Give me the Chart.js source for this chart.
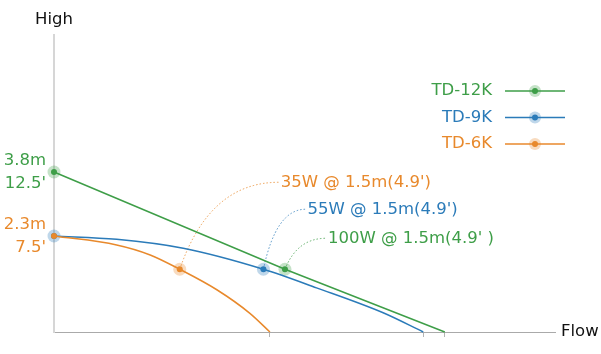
<!DOCTYPE html>
<html>
<head>
<meta charset="utf-8">
<script src="https://cdn.jsdelivr.net/npm/chart.js@4.4.1/dist/chart.umd.min.js"></script>
<style>
  html, body { margin: 0; padding: 0; background: #fff; }
  #pumpChart { display: block; }
</style>
</head>
<body>
<canvas id="pumpChart" width="601" height="354"></canvas>
<script>
// Data
const seriesNames = ['TD-12K', 'TD-9K', 'TD-6K'];
const seriesColors = ['#3e9e48', '#2b7bb9', '#e8892c'];
const haloColors = ['rgba(62,158,72,0.3)', 'rgba(43,123,185,0.3)', 'rgba(232,137,44,0.3)'];

const td12kFlow = [0, 46.1, 78.0];
const td12kHead = [12.5, 4.9, 0];

const td9kFlow = [0, 12.5, 25.8, 41.8, 52.4, 65.7, 73.7];
const td9kHead = [7.5, 7.24, 6.54, 4.9, 3.45, 1.5, 0];

const td6kFlow = [0, 12.5, 19.2, 25.1, 32.5, 39.1, 43.1];
const td6kHead = [7.5, 6.8, 6.02, 4.9, 3.3, 1.46, 0];

const flows = [td12kFlow, td9kFlow, td6kFlow];
const heads = [td12kHead, td9kHead, td6kHead];

// marked points (indexes) and the ones that get a halo
const markIndex = [[0, 1], [0, 3], [0, 3]];
const haloIndex = [[0, 1], [0, 3], [3]];
const callouts = ["100W @ 1.5m(4.9' )", "55W @ 1.5m(4.9')", "35W @ 1.5m(4.9')"];
const calloutPoint = [1, 3, 3];
const shutoffLabels = [['3.8m', "12.5'"], null, ['2.3m', "7.5'"]];
const axisTitles = { x: 'Flow', y: 'High' };

const maxFlows = flows.map(f => f[f.length - 1]);

// layout bits
const labelFont = '16.5px "DejaVu Sans"';
const calloutOffset = [[43, -31], [44, -60], [101, -87]];

const toPoints = (fx, hy) => fx.map((v, i) => ({ x: v, y: hy[i] }));

const datasets = [];
seriesNames.forEach((name, i) => {
  datasets.push({
    label: name,
    data: toPoints(flows[i], heads[i]),
    borderColor: seriesColors[i],
    borderWidth: 1.5,
    pointRadius: flows[i].map((v, k) => markIndex[i].includes(k) ? 3 : 0),
    pointBackgroundColor: seriesColors[i],
    pointBorderWidth: 0,
    tension: i === 0 ? 0 : 0.4,
    cubicInterpolationMode: i === 0 ? 'default' : 'monotone',
    showLine: true,
    clip: false,
    order: 3 - i
  });
});
seriesNames.forEach((name, i) => {
  datasets.push({
    label: name + ' halo',
    data: haloIndex[i].map(k => ({ x: flows[i][k], y: heads[i][k] })),
    pointRadius: 6.5,
    pointBackgroundColor: haloColors[i],
    pointBorderWidth: 0,
    showLine: false,
    clip: false,
    order: 10
  });
});

const leaderPlugin = {
  id: 'leaders',
  beforeDatasetsDraw(chart) {
    const ctx = chart.ctx;
    const xs = chart.scales.x, ys = chart.scales.y;
    ctx.save();
    ctx.lineWidth = 1;
    ctx.setLineDash([1.5, 2]);
    callouts.forEach((txt, i) => {
      const k = calloutPoint[i];
      const px = xs.getPixelForValue(flows[i][k]);
      const py = ys.getPixelForValue(heads[i][k]);
      const ex = px + calloutOffset[i][0] - 2;
      const ey = py + calloutOffset[i][1];
      ctx.strokeStyle = haloColors[i].replace('0.3', '0.8');
      ctx.beginPath();
      ctx.moveTo(px, py);
      ctx.quadraticCurveTo(px + (ex - px) * 0.3, ey, ex, ey);
      ctx.stroke();
    });
    ctx.restore();
  },
  afterDraw(chart) {
    const ctx = chart.ctx;
    const xs = chart.scales.x, ys = chart.scales.y;
    const area = chart.chartArea;
    ctx.save();
    ctx.font = labelFont;
    ctx.textBaseline = 'middle';

    // axis titles
    ctx.fillStyle = '#111';
    ctx.textAlign = 'center';
    ctx.fillText(axisTitles.y, area.left, area.top - 15);
    ctx.textAlign = 'left';
    ctx.fillText(axisTitles.x, area.right + 6, area.bottom);

    // shut-off head labels
    ctx.textAlign = 'right';
    shutoffLabels.forEach((pair, i) => {
      if (!pair) return;
      const py = ys.getPixelForValue(heads[i][0]);
      ctx.fillStyle = seriesColors[i];
      ctx.fillText(pair[0], area.left - 8, py - 11);
      ctx.fillText(pair[1], area.left - 8, py + 12);
    });

    // callout texts
    ctx.textAlign = 'left';
    callouts.forEach((txt, i) => {
      const k = calloutPoint[i];
      const px = xs.getPixelForValue(flows[i][k]);
      const py = ys.getPixelForValue(heads[i][k]);
      ctx.fillStyle = seriesColors[i];
      ctx.fillText(txt, px + calloutOffset[i][0], py + calloutOffset[i][1]);
    });

    // legend
    seriesNames.forEach((name, i) => {
      const ly = 91 + i * 26.5;
      ctx.fillStyle = seriesColors[i];
      ctx.textAlign = 'right';
      ctx.fillText(name, 492, ly);
      ctx.strokeStyle = seriesColors[i];
      ctx.lineWidth = 1.5;
      ctx.beginPath();
      ctx.moveTo(505, ly);
      ctx.lineTo(565, ly);
      ctx.stroke();
      ctx.fillStyle = haloColors[i];
      ctx.beginPath();
      ctx.arc(535, ly, 6, 0, Math.PI * 2);
      ctx.fill();
      ctx.fillStyle = seriesColors[i];
      ctx.beginPath();
      ctx.arc(535, ly, 3, 0, Math.PI * 2);
      ctx.fill();
    });
    ctx.restore();
  }
};

new Chart(document.getElementById('pumpChart'), {
  type: 'scatter',
  data: { datasets: datasets },
  options: {
    responsive: false,
    animation: false,
    devicePixelRatio: 1,
    layout: { padding: { left: 54, right: 46, top: 35, bottom: 22 } },
    plugins: { legend: { display: false }, tooltip: { enabled: false } },
    scales: {
      x: {
        type: 'linear',
        min: 0,
        max: 100,
        afterFit: s => { s.height = 0; },
        afterBuildTicks: s => { s.ticks = maxFlows.map(v => ({ value: v })); },
        ticks: { display: false },
        grid: { display: true, drawOnChartArea: false, drawTicks: true, tickLength: 5, color: '#b4b4b4' },
        border: { display: true, color: '#aaaaaa', width: 1 }
      },
      y: {
        type: 'linear',
        min: 0,
        max: 23.2,
        afterFit: s => { s.width = 0; },
        ticks: { display: false },
        grid: { display: false },
        border: { display: true, color: '#d6d6d6', width: 2 }
      }
    }
  },
  plugins: [leaderPlugin]
});
</script>
</body>
</html>
